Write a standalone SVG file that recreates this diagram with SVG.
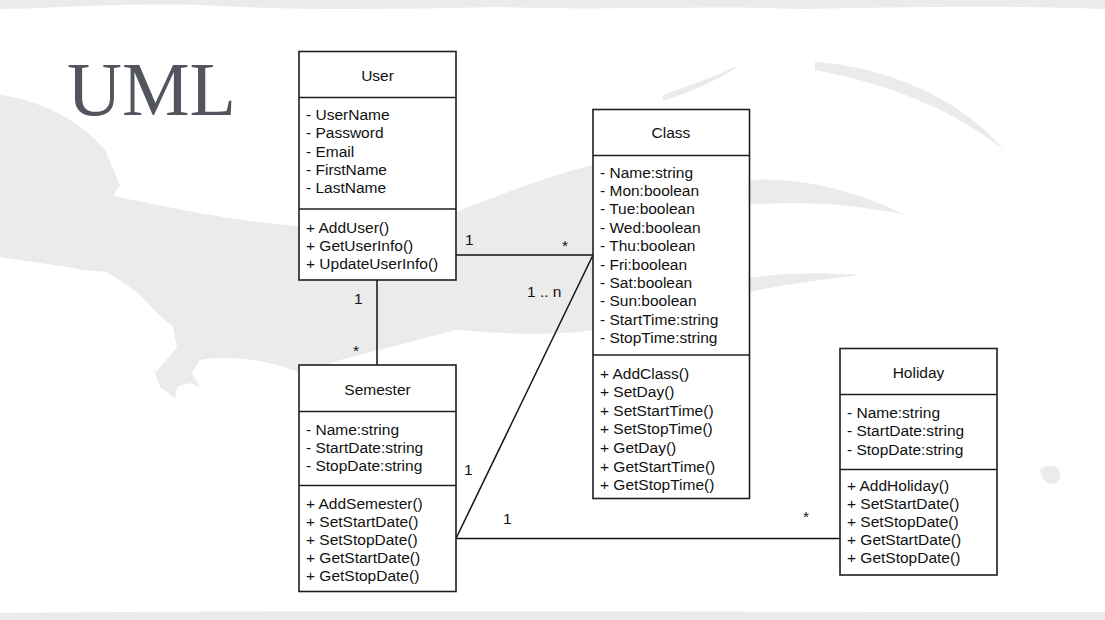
<svg xmlns="http://www.w3.org/2000/svg" width="1105" height="620" viewBox="0 0 1105 620">
<style>
.bg{fill:#ebebeb;stroke:none}
.box{fill:#ffffff;stroke:#1e1e1e;stroke-width:1.6}
.div{stroke:#1e1e1e;stroke-width:1.6}
.t{font-family:"Liberation Sans",Arial,sans-serif;font-size:15.5px;fill:#111}
.h{text-anchor:middle}
.con{stroke:#111;stroke-width:1.5;fill:none}
.title{font-family:"Liberation Serif","Times New Roman",serif;font-size:76px;fill:#52555d}
</style>
<rect width="1105" height="620" fill="#ffffff"/>
<g id="background">
<path class="bg" d="M0,0 H1105 V9 C1000,5 900,7 800,9 C700,5 600,11 500,7 C400,9 300,11 200,5 C100,3 50,9 0,9 Z"/>
<path class="bg" d="M0,613 C300,610 700,612 1105,612 V620 H0 Z"/>
<path class="bg" d="M0,95 C40,100 80,120 105,150 L120,185 L113,196 C160,205 220,220 300,226 L456,212 C500,195 550,175 593,165 L593,330 C560,335 520,335 456,330 L340,360 L300,373 C270,360 230,355 200,360 L192,373 L200,387 L190,383 L177,387 L175,398 L160,387 L155,373 L177,347 L173,327 L157,313 L137,292 L107,272 L83,270 C60,265 30,262 0,257 Z"/>
<path class="bg" d="M749,180 C800,176 860,192 905,215 C860,205 800,200 749,205 Z"/>
<path class="bg" d="M749,278 C780,273 820,272 860,275 C820,280 780,285 749,292 Z"/>
<path class="bg" d="M815,62 C900,68 970,108 1004,150 C960,115 900,86 815,70 Z"/>
<path class="bg" d="M663,95 C690,85 720,75 741,64 C720,80 690,92 663,101 Z"/>
<path class="bg" d="M1040,470 C1050,462 1062,466 1060,478 C1055,488 1042,485 1040,470 Z"/>
</g>
<text class="title" x="67" y="115">UML</text>
<g id="connectors">
<line class="con" x1="456" y1="255" x2="593" y2="255"/>
<line class="con" x1="377" y1="280" x2="377" y2="365"/>
<line class="con" x1="593" y1="255" x2="456" y2="538.5"/>
<line class="con" x1="456" y1="538.5" x2="840" y2="538.5"/>
<text class="t" x="465" y="245">1</text>
<text class="t" x="562" y="251">*</text>
<text class="t" x="527" y="297">1 .. n</text>
<text class="t" x="354" y="304">1</text>
<text class="t" x="353" y="356">*</text>
<text class="t" x="464" y="475">1</text>
<text class="t" x="503" y="524">1</text>
<text class="t" x="803" y="522">*</text>
</g>
<g id="user">
<rect class="box" x="299" y="51.5" width="157" height="228.5"/>
<line class="div" x1="299" y1="97.5" x2="456" y2="97.5"/>
<line class="div" x1="299" y1="209" x2="456" y2="209"/>
<text class="t h" x="377.5" y="81">User</text>
<text class="t" x="306" y="120">- UserName</text>
<text class="t" x="306" y="138.3">- Password</text>
<text class="t" x="306" y="156.6">- Email</text>
<text class="t" x="306" y="175">- FirstName</text>
<text class="t" x="306" y="193.3">- LastName</text>
<text class="t" x="306" y="232.5">+ AddUser()</text>
<text class="t" x="306" y="250.8">+ GetUserInfo()</text>
<text class="t" x="306" y="269">+ UpdateUserInfo()</text>
</g>
<g id="class">
<rect class="box" x="593" y="109.5" width="156.5" height="389"/>
<line class="div" x1="593" y1="155.5" x2="749.5" y2="155.5"/>
<line class="div" x1="593" y1="355" x2="749.5" y2="355"/>
<text class="t h" x="671" y="138">Class</text>
<text class="t" x="600" y="177.5">- Name:string</text>
<text class="t" x="600" y="195.9">- Mon:boolean</text>
<text class="t" x="600" y="214.3">- Tue:boolean</text>
<text class="t" x="600" y="232.7">- Wed:boolean</text>
<text class="t" x="600" y="251.1">- Thu:boolean</text>
<text class="t" x="600" y="269.5">- Fri:boolean</text>
<text class="t" x="600" y="287.9">- Sat:boolean</text>
<text class="t" x="600" y="306.3">- Sun:boolean</text>
<text class="t" x="600" y="324.7">- StartTime:string</text>
<text class="t" x="600" y="343.1">- StopTime:string</text>
<text class="t" x="600" y="378.5">+ AddClass()</text>
<text class="t" x="600" y="397.1">+ SetDay()</text>
<text class="t" x="600" y="415.7">+ SetStartTime()</text>
<text class="t" x="600" y="434.3">+ SetStopTime()</text>
<text class="t" x="600" y="452.9">+ GetDay()</text>
<text class="t" x="600" y="471.5">+ GetStartTime()</text>
<text class="t" x="600" y="490.1">+ GetStopTime()</text>
</g>
<g id="semester">
<rect class="box" x="299" y="365" width="157" height="226.5"/>
<line class="div" x1="299" y1="411.5" x2="456" y2="411.5"/>
<line class="div" x1="299" y1="485.5" x2="456" y2="485.5"/>
<text class="t h" x="377.5" y="395">Semester</text>
<text class="t" x="306" y="435">- Name:string</text>
<text class="t" x="306" y="453">- StartDate:string</text>
<text class="t" x="306" y="471">- StopDate:string</text>
<text class="t" x="306" y="508.5">+ AddSemester()</text>
<text class="t" x="306" y="526.6">+ SetStartDate()</text>
<text class="t" x="306" y="544.7">+ SetStopDate()</text>
<text class="t" x="306" y="562.8">+ GetStartDate()</text>
<text class="t" x="306" y="581">+ GetStopDate()</text>
</g>
<g id="holiday">
<rect class="box" x="840" y="348.5" width="157" height="226.5"/>
<line class="div" x1="840" y1="394.5" x2="997" y2="394.5"/>
<line class="div" x1="840" y1="469.5" x2="997" y2="469.5"/>
<text class="t h" x="918.5" y="378">Holiday</text>
<text class="t" x="847" y="417.5">- Name:string</text>
<text class="t" x="847" y="436">- StartDate:string</text>
<text class="t" x="847" y="454.5">- StopDate:string</text>
<text class="t" x="847" y="491">+ AddHoliday()</text>
<text class="t" x="847" y="509.1">+ SetStartDate()</text>
<text class="t" x="847" y="527.2">+ SetStopDate()</text>
<text class="t" x="847" y="545.3">+ GetStartDate()</text>
<text class="t" x="847" y="563.4">+ GetStopDate()</text>
</g>
</svg>
